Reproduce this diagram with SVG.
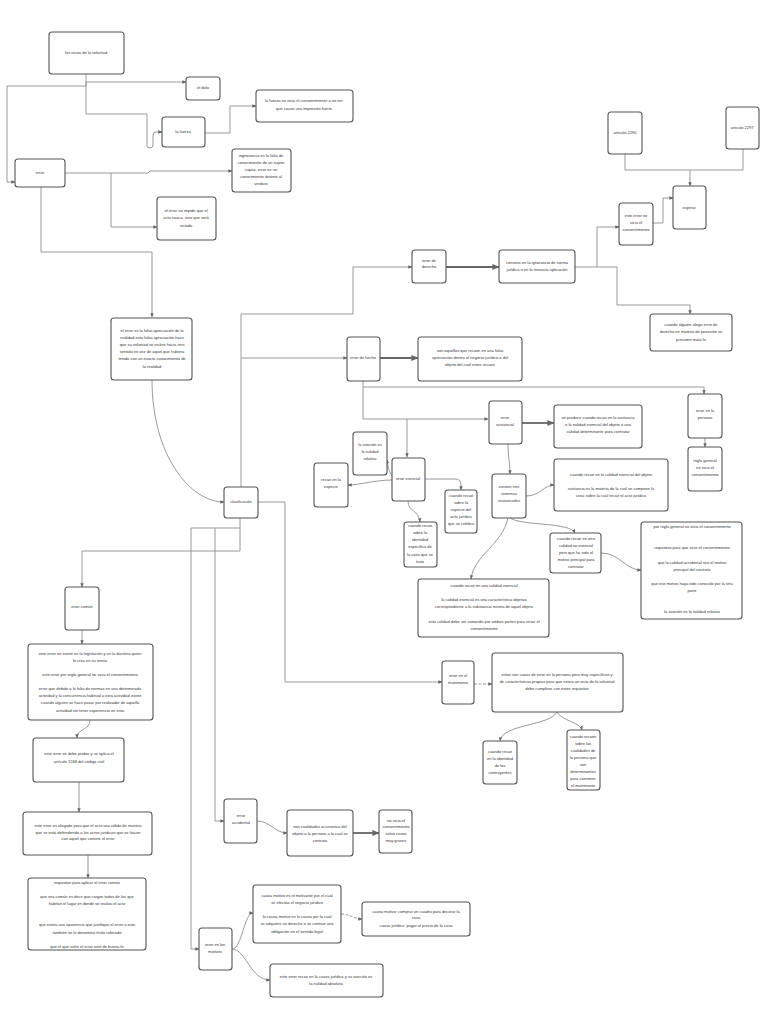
<svg xmlns="http://www.w3.org/2000/svg" width="768" height="1024" viewBox="0 0 768 1024">
<style>
.b{fill:#fff;stroke:#555;stroke-width:1.1}
.t{font-family:"Liberation Sans",Arial,sans-serif;font-size:4px;fill:#333;text-anchor:middle}
.c{fill:none;stroke:#9a9a9a;stroke-width:1}
.k{fill:none;stroke:#666;stroke-width:1.8}
</style>
<defs>
<marker id="a" viewBox="0 0 6 6" refX="5.5" refY="3" markerWidth="4" markerHeight="4" orient="auto"><path d="M0,0.5 L6,3 L0,5.5 z" fill="#666"/></marker>
</defs>
<rect width="768" height="1024" fill="#fff"/>
<g id="connectors">
<path class="c" d="M86,74 V82 H186" marker-end="url(#a)"/>
<path class="c" d="M86,82 V86 H7 V182 H15" marker-end="url(#a)"/>
<path class="c" d="M86,82 V114 H147 V146 Q147,148 150,148 Q153,148 153,145 V135 Q153,132 156,132 H162" marker-end="url(#a)"/>
<path class="c" d="M205,133 H230 V106 H256" marker-end="url(#a)"/>
<path class="c" d="M65,173 H148 L150,171 H232" marker-end="url(#a)"/>
<path class="c" d="M111,173 V227 H157" marker-end="url(#a)"/>
<path class="c" d="M41,187 V252 H152 V317" marker-end="url(#a)"/>
<path class="c" d="M152,380 C152,455 190,502 224,502" marker-end="url(#a)"/>
<path class="c" d="M241,487 V314 H353 V267 H412" marker-end="url(#a)"/>
<path class="c" d="M241,358 H347" marker-end="url(#a)"/>
<path class="c" d="M258,502 H285 V682 H442" marker-end="url(#a)"/>
<path class="c" d="M240,518 V551 H82 V587" marker-end="url(#a)"/>
<path class="c" d="M240,528 H191 V949 H199" marker-end="url(#a)"/>
<path class="c" d="M215,528 V821 H224" marker-end="url(#a)"/>
<path class="k" d="M446,267 H499" marker-end="url(#a)"/>
<path class="c" d="M575,267 H597 V227 H619" marker-end="url(#a)"/>
<path class="c" d="M597,267 H617 V305 H690 V314" marker-end="url(#a)"/>
<path class="c" d="M653,223 H663 V198 H673" marker-end="url(#a)"/>
<path class="c" d="M625,154 V170 H743 V149"/>
<path class="c" d="M690,170 V186" marker-end="url(#a)"/>
<path class="k" d="M380,358 H418" marker-end="url(#a)"/>
<path class="c" d="M363,381 V387 H704 V394" marker-end="url(#a)"/>
<path class="c" d="M363,387 V419 H488" marker-end="url(#a)"/>
<path class="c" d="M407,419 V457" marker-end="url(#a)"/>
<path class="c" d="M705,438 V447" marker-end="url(#a)"/>
<path class="k" d="M522,423 H554" marker-end="url(#a)"/>
<path class="c" d="M508,444 C508,458 510,462 510,474" marker-end="url(#a)"/>
<path class="c" d="M526,496 C540,496 544,485 554,485" marker-end="url(#a)"/>
<path class="c" d="M508,518 C502,545 474,555 471,579" marker-end="url(#a)"/>
<path class="c" d="M510,518 C522,526 570,522 575,533" marker-end="url(#a)"/>
<path class="c" d="M601,553 C620,553 625,570 641,570" marker-end="url(#a)"/>
<path class="c" d="M392,480 C375,480 360,485 348,485" marker-end="url(#a)"/>
<path class="c" d="M392,476 C388,470 388,465 387,460" marker-end="url(#a)"/>
<path class="c" d="M425,479 H455 Q461,479 461,485 V490" marker-end="url(#a)"/>
<path class="c" d="M408,501 C408,512 419,510 420,522" marker-end="url(#a)"/>
<path class="c" d="M474,684 H492" stroke-dasharray="3,1.5" marker-end="url(#a)"/>
<path class="c" d="M557,712 C550,726 502,724 500,741" marker-end="url(#a)"/>
<path class="c" d="M557,712 C562,721 580,722 582,730" marker-end="url(#a)"/>
<path class="c" d="M82,630 V644" marker-end="url(#a)"/>
<path class="c" d="M90,720 C90,731 77,728 77,738" marker-end="url(#a)"/>
<path class="c" d="M79,782 V812" marker-end="url(#a)"/>
<path class="c" d="M88,855 V878" marker-end="url(#a)"/>
<path class="c" d="M257,821 C270,821 275,833 287,833" marker-end="url(#a)"/>
<path class="k" d="M353,833 H379" marker-end="url(#a)"/>
<path class="c" d="M232,949 C242,949 244,913 253,913" marker-end="url(#a)"/>
<path class="c" d="M232,949 C246,949 250,980 270,980" marker-end="url(#a)"/>
<path class="c" d="M341,914 C350,914 354,919 362,919" stroke-dasharray="3,1.5" marker-end="url(#a)"/>
</g>
<g id="n1"><rect class="b" x="49" y="32" width="75" height="42" rx="3"/><text class="t" x="86" y="54">los vicios de la voluntad</text></g>
<g id="n2"><rect class="b" x="186" y="77" width="34" height="23" rx="3"/><text class="t" x="203" y="89">el dolo</text></g>
<g id="n3"><rect class="b" x="162" y="117" width="43" height="30" rx="3"/><text class="t" x="183" y="133">la fuerza</text></g>
<g id="n4"><rect class="b" x="256" y="90" width="97" height="32" rx="3"/><text class="t" x="304" y="102">la fuerza no vicia el consentimiento a no ser</text><text class="t" x="304" y="110">que cause una impresión fuerte</text></g>
<g id="n5"><rect class="b" x="15" y="159" width="50" height="28" rx="3"/><text class="t" x="40" y="174">error</text></g>
<g id="n6"><rect class="b" x="232" y="149" width="59" height="43" rx="3" stroke-width="1.5"/><text class="t" x="261" y="157">ingnorancia es la falta de</text><text class="t" x="261" y="164">conocimiento de un sujeto</text><text class="t" x="261" y="171">capaz, error es un</text><text class="t" x="261" y="178">conocimiento distinto al</text><text class="t" x="261" y="185">verdaro</text></g>
<g id="n7"><rect class="b" x="157" y="197" width="59" height="43" rx="3"/><text class="t" x="186" y="212">el error no impide que el</text><text class="t" x="186" y="219">acto nazca, sino que será</text><text class="t" x="186" y="227">viciado</text></g>
<g id="n8"><rect class="b" x="111" y="318" width="81" height="62" rx="3"/><text class="t" x="152" y="332">el error es la falsa apreciación de la</text><text class="t" x="152" y="339">realidad esta falsa apreciación hace</text><text class="t" x="152" y="346">que su voluntad se incline hacia otro</text><text class="t" x="152" y="353">sentido en vez de aquel que hubiera</text><text class="t" x="152" y="360">tenido con un exacto conocimiento de</text><text class="t" x="152" y="368">la realidad</text></g>
<g id="n9"><rect class="b" x="224" y="487" width="34" height="31" rx="3"/><text class="t" x="241" y="503">clasificación</text></g>
<g id="n10"><rect class="b" x="412" y="250" width="34" height="33" rx="3"/><text class="t" x="429" y="262">error de</text><text class="t" x="429" y="268">derecho</text></g>
<g id="n11"><rect class="b" x="499" y="250" width="76" height="33" rx="3"/><text class="t" x="537" y="264">consiste en la ignorancia de norma</text><text class="t" x="537" y="271">jurídica o en la inexacta aplicación</text></g>
<g id="n12"><rect class="b" x="619" y="203" width="34" height="42" rx="3"/><text class="t" x="636" y="217">este error no</text><text class="t" x="636" y="224">vicia el</text><text class="t" x="636" y="231">consentimiento</text></g>
<g id="n13"><rect class="b" x="673" y="186" width="33" height="43" rx="3"/><text class="t" x="689" y="209">expeso</text></g>
<g id="n14"><rect class="b" x="608" y="112" width="34" height="42" rx="3"/><text class="t" x="625" y="134">articulo 2290</text></g>
<g id="n15"><rect class="b" x="726" y="107" width="33" height="42" rx="3"/><text class="t" x="742" y="129">articulo 2297</text></g>
<g id="n16"><rect class="b" x="650" y="314" width="82" height="37" rx="3"/><text class="t" x="691" y="326">cuando alguien alega error de</text><text class="t" x="691" y="333">derecho en materia de posesión se</text><text class="t" x="691" y="341">presume mala fe</text></g>
<g id="n17"><rect class="b" x="347" y="337" width="33" height="44" rx="3"/><text class="t" x="363" y="359">error de hecho</text></g>
<g id="n18"><rect class="b" x="418" y="337" width="104" height="44" rx="3"/><text class="t" x="470" y="352">son aquellos que recaen en una falsa</text><text class="t" x="470" y="359">apreciación dentro el negocio jurídico o del</text><text class="t" x="470" y="366">objeto del cual estos recaen</text></g>
<g id="n19"><rect class="b" x="688" y="394" width="34" height="44" rx="3"/><text class="t" x="705" y="412">error en la</text><text class="t" x="705" y="419">persona</text></g>
<g id="n20"><rect class="b" x="688" y="447" width="34" height="44" rx="3"/><text class="t" x="705" y="462">regla general</text><text class="t" x="705" y="469">no vicia el</text><text class="t" x="705" y="476">consentimiento</text></g>
<g id="n21"><rect class="b" x="489" y="401" width="33" height="43" rx="3"/><text class="t" x="505" y="419">error</text><text class="t" x="505" y="426">sustancial</text></g>
<g id="n22"><rect class="b" x="554" y="405" width="88" height="43" rx="3"/><text class="t" x="598" y="419">se produce cuando recae en la sustancia</text><text class="t" x="598" y="426">o la nulidad esencial del objeto o una</text><text class="t" x="598" y="433">calidad determinante para contratar</text></g>
<g id="n23"><rect class="b" x="492" y="474" width="34" height="44" rx="3"/><text class="t" x="509" y="488">existen tres</text><text class="t" x="509" y="495">sistemas</text><text class="t" x="509" y="502">sustanciales</text></g>
<g id="n24"><rect class="b" x="554" y="459" width="114" height="52" rx="3"/><text class="t" x="611" y="476">cuando recae en la calidad esencial del objeto</text><text class="t" x="611" y="490">sustancia es la materia de la cual se compone la</text><text class="t" x="611" y="497">cosa sobre la cual recae el acto jurídico</text></g>
<g id="n25"><rect class="b" x="392" y="458" width="33" height="43" rx="3"/><text class="t" x="408" y="480">error esencial</text></g>
<g id="n26"><rect class="b" x="353" y="432" width="34" height="43" rx="3"/><text class="t" x="370" y="446">la sanción es</text><text class="t" x="370" y="453">la nulidad</text><text class="t" x="370" y="460">relativa</text></g>
<g id="n27"><rect class="b" x="314" y="463" width="34" height="44" rx="3"/><text class="t" x="331" y="481">recae en la</text><text class="t" x="331" y="488">especie</text></g>
<g id="n28"><rect class="b" x="445" y="490" width="32" height="43" rx="3" stroke-width="1.4"/><text class="t" x="461" y="497">cuando recaé</text><text class="t" x="461" y="504">sobre la</text><text class="t" x="461" y="511">especie del</text><text class="t" x="461" y="518">acto jurídico</text><text class="t" x="461" y="525">que se celebra</text></g>
<g id="n29"><rect class="b" x="404" y="522" width="33" height="45" rx="3"/><text class="t" x="420" y="527">cuando recae</text><text class="t" x="420" y="534">sobre la</text><text class="t" x="420" y="541">identidad</text><text class="t" x="420" y="548">específica de</text><text class="t" x="420" y="556">la cosa que se</text><text class="t" x="420" y="563">trata</text></g>
<g id="n30"><rect class="b" x="418" y="579" width="131" height="58" rx="3"/><text class="t" x="484" y="587">cuando recae en una calidad esencial</text><text class="t" x="484" y="601">la calidad esencial es una característica  objetiva</text><text class="t" x="484" y="608">correspondiente a la substancia misma de aquel objeto</text><text class="t" x="484" y="623">esta calidad debe ser conocida por ambas partes para viciar el</text><text class="t" x="484" y="630">consentimiento</text></g>
<g id="n31"><rect class="b" x="550" y="533" width="51" height="40" rx="3"/><text class="t" x="576" y="540">cuando recae en otra</text><text class="t" x="576" y="547">calidad no esencial</text><text class="t" x="576" y="554">pero que ha sido el</text><text class="t" x="576" y="561">motivo principal para</text><text class="t" x="576" y="568">contratar</text></g>
<g id="n32"><rect class="b" x="641" y="522" width="101" height="97" rx="3"/><text class="t" x="692" y="528">por regla general no vicia el consentimiento</text><text class="t" x="692" y="549">requisitos para que vicie el consentimiento</text><text class="t" x="692" y="564">que la calidad accidental sea el motivo</text><text class="t" x="692" y="571">principal del contrato</text><text class="t" x="692" y="585">que ese motivo haya sido conocido por la otra</text><text class="t" x="692" y="592">parte</text><text class="t" x="692" y="613">la sanción es la nulidad relativa</text></g>
<g id="n33"><rect class="b" x="442" y="661" width="32" height="43" rx="3"/><text class="t" x="458" y="677">error en el</text><text class="t" x="458" y="684">matrimonio</text></g>
<g id="n34"><rect class="b" x="492" y="653" width="131" height="59" rx="3"/><text class="t" x="557" y="676">estos son casos de error en la persona pero muy específicos y</text><text class="t" x="557" y="683">de características propias para que exista un vicio de la voluntad</text><text class="t" x="557" y="690">debe cumplirse con estos requisitos</text></g>
<g id="n35"><rect class="b" x="483" y="741" width="34" height="43" rx="3"/><text class="t" x="500" y="753">cuando recae</text><text class="t" x="500" y="760">en la identidad</text><text class="t" x="500" y="767">de los</text><text class="t" x="500" y="774">contrayentes</text></g>
<g id="n36"><rect class="b" x="567" y="730" width="33" height="60" rx="3"/><text class="t" x="583" y="738">cuando recaen</text><text class="t" x="583" y="745">sobre las</text><text class="t" x="583" y="752">cualidades de</text><text class="t" x="583" y="759">la persona que</text><text class="t" x="583" y="766">son</text><text class="t" x="583" y="773">determinantes</text><text class="t" x="583" y="780">para consentir</text><text class="t" x="583" y="787">el matrimonio</text></g>
<g id="n37"><rect class="b" x="65" y="587" width="34" height="43" rx="3"/><text class="t" x="82" y="608">error común</text></g>
<g id="n38"><rect class="b" x="28" y="644" width="125" height="76" rx="3"/><text class="t" x="90" y="655">este error no existe en la legislación y es la doctrina quien</text><text class="t" x="90" y="662">lo crea en su teoría</text><text class="t" x="90" y="676">este error por regla general no vicia el consentimiento</text><text class="t" x="90" y="690">error que debido a la falta de normas en una determinada</text><text class="t" x="90" y="697">actividad y la concurrencia habitual a esta actividad existe</text><text class="t" x="90" y="704">cuando alguien se hace pasar por realizador de aquella</text><text class="t" x="90" y="712">actividad sin tener experiencia en esta</text></g>
<g id="n39"><rect class="b" x="33" y="738" width="91" height="44" rx="3"/><text class="t" x="79" y="755">este error se debe probar  y se aplica el</text><text class="t" x="79" y="763">artículo 1568 del código civil</text></g>
<g id="n40"><rect class="b" x="23" y="812" width="129" height="43" rx="3"/><text class="t" x="88" y="827">este error es alegado para que el acto sea válido de manera</text><text class="t" x="88" y="834">que se está defendiendo a los actos jurídicos  que se hacen</text><text class="t" x="88" y="840">con aquel que comete el error</text></g>
<g id="n41"><rect class="b" x="28" y="878" width="118" height="72" rx="3"/><text class="t" x="87" y="884">requisitos para aplicar el error común</text><text class="t" x="87" y="898">que sea común es decir que caigan todos de los que</text><text class="t" x="87" y="905">habitan el lugar en donde se realiza el acto</text><text class="t" x="87" y="926">que exista una apariencia que justifique el error a esto</text><text class="t" x="87" y="934">también se le denomina título colorado</text><text class="t" x="87" y="948">que el que sufre el error esté de buena fe</text></g>
<g id="n42"><rect class="b" x="224" y="799" width="33" height="44" rx="3"/><text class="t" x="241" y="817">error</text><text class="t" x="241" y="824">accidental</text></g>
<g id="n43"><rect class="b" x="287" y="810" width="66" height="46" rx="3"/><text class="t" x="320" y="828">son cualidades accesorias del</text><text class="t" x="320" y="835">objeto o la persona a la cual se</text><text class="t" x="320" y="842">contrata</text></g>
<g id="n44"><rect class="b" x="379" y="810" width="33" height="43" rx="3"/><text class="t" x="396" y="822">no vicia el</text><text class="t" x="396" y="828">consentimiento</text><text class="t" x="396" y="835">salvo casos</text><text class="t" x="396" y="842">muy graves</text></g>
<g id="n45"><rect class="b" x="199" y="928" width="33" height="42" rx="3"/><text class="t" x="215" y="946">error en los</text><text class="t" x="215" y="953">motivos</text></g>
<g id="n46"><rect class="b" x="253" y="885" width="88" height="58" rx="3"/><text class="t" x="297" y="897">causa motivo es el motivante por el cual</text><text class="t" x="297" y="904">se efectúa el negocio jurídico</text><text class="t" x="297" y="918">la causa motivo es la causa por la cual</text><text class="t" x="297" y="925">se adquiere un derecho o se contrae una</text><text class="t" x="297" y="933">obligación en el sentido legal</text></g>
<g id="n47"><rect class="b" x="362" y="902" width="108" height="34" rx="3"/><text class="t" x="416" y="913">causa motivo: comprar un cuadro para decorar la</text><text class="t" x="416" y="919">casa</text><text class="t" x="416" y="927">causa jurídica: pagar el precio de la cosa</text></g>
<g id="n48"><rect class="b" x="270" y="964" width="113" height="33" rx="3"/><text class="t" x="326" y="978">este error recae en la causa jurídica y su sanción es</text><text class="t" x="326" y="985">la nulidad absoluta</text></g>
</svg>
